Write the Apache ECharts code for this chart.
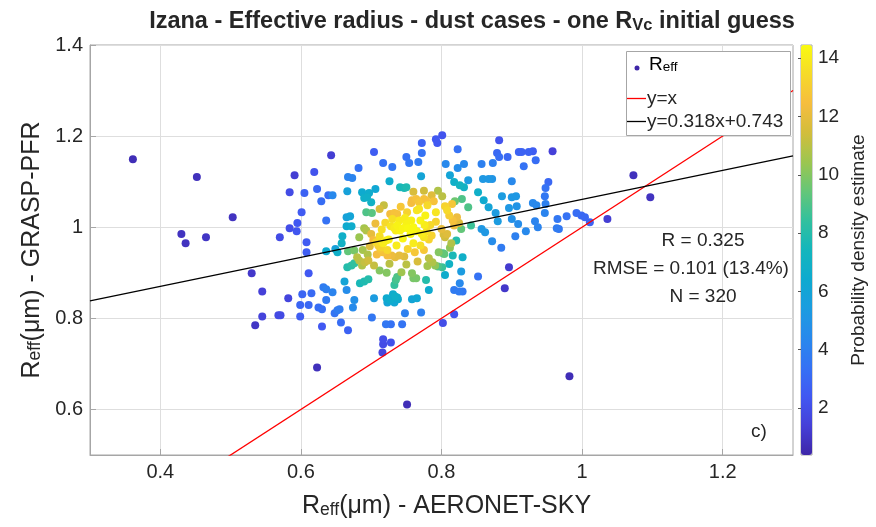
<!DOCTYPE html>
<html><head><meta charset="utf-8">
<script src="https://cdn.jsdelivr.net/npm/echarts@6/dist/echarts.min.js"></script>
<style>html,body{margin:0;padding:0;background:#fff}#c{width:876px;height:527px}</style>
</head><body><div id="c"></div>
<script>
// ---- data ----
// each sample: [AERONET-SKY Reff, GRASP-PFR Reff, probability density estimate]
const samples = [
[0.361,1.149,0.7],[0.452,1.110,0.8],[0.503,1.022,0.9],[0.430,0.985,0.9],[0.436,0.965,0.9],[0.465,0.978,1.0],[0.530,0.899,1.1],[0.535,0.785,1.0],[0.623,0.692,0.8],[0.751,0.611,0.7],[0.982,0.673,0.7],[0.890,0.866,1.1],[0.896,0.912,1.2],[1.073,1.114,0.8],[1.097,1.066,0.9],[1.036,1.018,1.3],[0.643,1.158,1.3],[0.591,1.114,1.3],[0.958,1.167,1.4],[0.802,0.790,2.0],[0.818,0.809,2.2],[0.716,0.725,1.6],
[0.582,0.844,1.6],[0.545,0.859,1.4],[0.570,0.978,1.9],[0.584,1.077,1.9],[0.584,0.998,2.0],[0.594,0.991,2.3],[0.595,1.009,2.4],[0.601,1.033,2.5],[0.608,0.967,2.5],[0.608,0.945,2.6],[0.611,0.899,2.4],[0.545,0.804,1.5],[0.568,0.807,1.8],[0.571,0.807,1.8],[0.599,0.804,2.6],[0.599,0.829,2.9],[0.611,0.829,3.0],[0.602,0.853,2.9],[0.615,0.855,3.1],[0.630,0.782,2.4],[0.625,0.824,3.2],[0.630,0.820,3.3],[0.632,0.868,3.8],[0.636,0.864,4.0],[0.645,0.857,4.2],[0.636,0.840,3.8],[0.652,0.818,3.8],[0.655,0.820,3.9],[0.648,0.811,3.5],[0.657,0.791,3.2],[0.667,0.774,2.8],[0.665,0.862,4.6],[0.676,0.840,4.8],[0.674,0.824,4.5],[0.662,0.881,6.0],[0.684,0.877,7.6],[0.690,0.881,7.8],[0.696,0.886,8.0],[0.701,0.802,3.6],[0.704,0.844,5.4],[0.717,0.754,2.0],[0.728,0.747,2.1],[0.717,0.743,1.9],[0.721,0.787,3.6],[0.722,0.844,6.4],[0.727,0.840,6.6],[0.731,0.853,6.6],[0.734,0.848,6.8],[0.737,0.846,6.6],[0.723,0.835,6.0],[0.733,0.835,6.2],[0.738,0.842,6.4],[0.733,0.873,8.5],[0.735,0.884,8.8],[0.737,0.891,9.0],[0.743,0.901,10.5],[0.744,0.787,3.5],[0.728,0.787,3.4],[0.748,0.811,4.0],[0.758,0.842,6.0],[0.765,0.844,6.2],[0.771,0.813,4.0],[0.778,0.884,8.0],[0.782,0.862,6.4],[0.760,0.888,9.8],[0.764,0.888,9.8],[0.758,0.899,10.0],[0.652,0.945,6.8],[0.636,0.947,6.4],[0.659,0.980,6.8],[0.658,0.965,7.0],[0.667,0.947,9.4],[0.676,0.949,9.8],[0.676,0.921,8.4],[0.672,0.916,8.2],[0.666,0.912,8.0],[0.691,0.923,11.2],[0.696,0.927,11.4],[0.704,0.916,11.2],
[0.801,1.202,2.2],[0.792,1.193,2.4],[0.794,1.185,2.4],[0.772,1.185,2.8],[0.772,1.163,3.4],[0.704,1.165,2.6],[0.750,1.154,3.4],[0.754,1.141,3.6],[0.767,1.143,3.8],[0.717,1.141,3.4],[0.730,1.132,3.6],[0.682,1.130,3.4],[0.619,1.121,2.2],[0.823,1.171,3.4],[0.882,1.191,2.2],[0.879,1.163,3.0],[0.882,1.154,3.2],[0.894,1.154,3.0],[0.910,1.165,2.8],[0.914,1.165,2.8],[0.924,1.165,2.8],[0.930,1.167,2.6],[0.806,1.139,4.4],[0.823,1.130,4.6],[0.832,1.139,4.4],[0.857,1.139,4.0],[0.873,1.141,4.0],[0.917,1.134,3.4],[0.934,1.147,3.2],[0.812,1.114,6.0],[0.818,1.099,6.8],[0.826,1.092,7.2],[0.838,1.103,5.4],[0.859,1.106,5.2],[0.867,1.106,5.2],[0.872,1.106,5.0],[0.900,1.101,4.4],[0.952,1.099,3.0],[0.948,1.086,3.4],[0.947,1.068,3.6],[0.852,1.077,6.8],[0.860,1.059,6.4],[0.867,1.044,6.0],[0.886,1.068,5.4],[0.900,1.066,5.2],[0.906,1.068,5.2],[0.896,1.042,5.2],[0.907,1.046,5.0],[0.930,1.053,4.4],[0.935,1.048,4.4],[0.948,1.051,4.0],[0.829,1.062,9.0],[0.819,1.057,9.6],[0.838,1.044,9.0],[0.877,1.031,5.4],[0.880,1.013,5.4],[0.900,1.018,4.8],[0.909,1.007,4.6],[0.920,0.991,4.4],[0.933,1.013,4.2],[0.937,1.000,4.2],[0.947,1.031,4.2],[0.964,0.998,3.8],[0.965,1.018,3.6],[0.978,1.024,3.4],[0.992,1.031,3.2],[0.999,1.026,3.0],[1.004,1.022,3.0],[1.011,1.011,2.8],[0.967,0.996,3.6],[0.832,1.088,7.0],
[0.872,0.969,4.6],[0.857,0.996,5.2],[0.862,0.989,5.2],[0.842,1.004,8.6],[0.828,0.996,9.4],[0.821,0.971,8.0],[0.802,0.943,8.6],[0.816,0.938,7.6],[0.811,0.919,7.0],[0.805,0.895,6.6],[0.828,0.903,5.4],[0.826,0.877,4.4],[0.818,0.862,3.8],[0.825,0.859,3.8],[0.830,0.859,3.6],[0.852,0.892,3.4],[0.905,0.980,4.0],[0.885,0.955,3.8],
[0.645,1.070,4.4],[0.666,1.079,5.8],[0.687,1.077,6.4],[0.690,1.064,6.8],[0.694,1.066,6.8],[0.697,1.075,6.6],[0.700,1.055,7.0],[0.706,1.084,6.2],[0.726,1.101,6.6],[0.741,1.088,7.6],[0.747,1.086,7.6],[0.750,1.088,7.8],[0.771,1.112,6.0],[0.667,1.110,4.2],[0.673,1.108,4.2],[0.623,1.084,3.0],[0.605,1.075,2.8],[0.639,1.070,3.2],[0.629,1.057,3.2],[0.636,1.015,3.4],[0.665,1.022,5.8],[0.670,1.024,6.0],[0.665,1.002,6.4],[0.672,1.002,6.6],[0.693,1.033,9.0],[0.701,1.031,9.2],[0.690,0.998,10.6],[0.693,0.993,10.8],[0.683,0.978,10.4],[0.649,0.952,5.8],[0.801,1.068,11.0],[0.757,1.053,12.4],[0.758,1.059,12.4],[0.764,1.062,12.6],[0.768,1.055,12.8],[0.775,1.062,12.6],[0.778,1.059,12.6],[0.789,1.057,12.6],[0.805,1.046,13.2],[0.808,1.037,13.4],[0.811,1.026,13.0],[0.815,1.051,12.8],[0.816,1.015,12.6],[0.818,1.004,12.2],[0.822,1.022,12.2],[0.825,1.009,11.8],[0.792,1.033,13.8],[0.777,1.026,14.2],[0.765,1.037,13.8],[0.768,1.040,13.8],[0.751,1.033,13.2],[0.727,1.029,12.4],[0.733,1.031,12.6],[0.737,1.029,12.6],[0.728,1.002,13.8],[0.733,0.998,14.0],[0.735,0.993,14.0],[0.737,1.004,14.2],[0.741,0.993,14.2],[0.745,0.998,14.3],[0.750,1.007,14.2],[0.752,0.998,14.4],[0.712,0.980,13.6],[0.707,0.967,13.4],[0.710,0.960,13.0],[0.714,0.956,13.2],[0.717,0.965,14.0],[0.721,0.971,14.0],[0.725,0.973,14.2],[0.765,0.991,14.2],[0.772,0.985,14.0],[0.775,0.978,13.8],[0.779,0.991,13.6],[0.782,0.973,13.2],[0.786,0.982,13.2],[0.800,0.996,12.0],[0.803,0.984,11.6],[0.805,0.978,11.4],[0.713,0.952,12.8],[0.716,0.945,12.6],[0.708,0.940,12.4],[0.723,0.938,12.4],[0.729,0.938,12.2],[0.734,0.934,12.0],[0.740,0.938,12.0],[0.747,0.936,11.8],[0.680,0.934,11.0],[0.683,0.927,11.0],[0.687,0.916,10.8],[0.782,0.932,11.0],[0.787,0.923,10.8],[0.791,0.916,10.2],[0.796,0.945,10.0],[0.804,0.941,9.4],[0.801,0.912,8.6],[0.795,0.914,9.0],[0.830,0.934,6.8],
[0.723,0.950,13.4],[0.736,0.960,14.0],[0.745,0.975,14.3],[0.756,0.985,14.4],[0.760,1.000,14.4],[0.757,1.015,14.2],[0.748,1.020,14.0],[0.740,1.015,14.0],[0.730,1.018,13.6],[0.720,1.010,13.4],[0.715,0.995,13.6],[0.760,0.965,14.0],[0.770,0.960,13.6],[0.752,0.952,13.2],[0.762,0.945,12.8],[0.775,0.950,12.8],[0.784,1.005,13.4],[0.792,1.012,13.2],[0.770,1.015,14.2],[0.776,1.005,14.0],[0.700,0.985,12.0],[0.703,0.972,12.4],[0.698,0.958,11.8],[0.706,1.008,12.2],[0.712,1.040,11.6],[0.718,1.048,11.2],[0.742,1.045,12.8],[0.780,1.048,13.4],[0.786,1.070,11.8],[0.795,1.080,10.8],[0.775,1.080,11.4],[0.760,1.078,11.6],[0.814,0.965,10.8],[0.812,0.955,10.2],[0.808,0.985,11.8],[0.688,0.950,10.6],[0.695,0.940,10.8],[0.726,0.920,11.0],[0.750,0.918,11.0],[0.766,0.925,11.6],[0.780,0.915,10.6],[0.712,0.905,10.0],[0.722,0.900,10.0]
];
const xTicks = [0.4, 0.6, 0.8, 1, 1.2];
const yTicks = [0.6, 0.8, 1, 1.2, 1.4];
const colorbarTicks = [2, 4, 6, 8, 10, 12, 14];
const xRange = [0.3, 1.3];
const yRange = [0.5, 1.4];
const densityRange = [0.39, 14.45];
const fitCoef = [0.318, 0.743];          // slope, intercept
const statsLines = ['R = 0.325', 'RMSE = 0.101 (13.4%)', 'N = 320'];
const panelLabel = 'c)';
const parula = ['#3e26a8','#4540d8','#4158f2','#3572f4','#2889ec','#1c9ce0','#0eaacf','#14b6bc','#32c09e','#64c678','#9cc650','#d2bd3c','#f6bd3e','#f6da2a','#f9fa10'];

// ---- chart ----
const FONT = '"Liberation Sans", Arial, Helvetica, sans-serif';
const TXT = '#262626';
const AX = '#a6a6a6';
const chart = echarts.init(document.getElementById('c'), null, {renderer: 'canvas'});
const sorted = samples.slice().sort((a, b) => a[2] - b[2]);
const identityLine = [[xRange[0], xRange[0]], [xRange[1], xRange[1]]];
const fitLine = [[xRange[0], fitCoef[0]*xRange[0]+fitCoef[1]], [xRange[1], fitCoef[0]*xRange[1]+fitCoef[1]]];

// rich-text styles for "main{sub}" text: drop = baseline drop of the subscript in px
function subRich(size, subSize, drop, bold) {
  const w = bold ? 'bold' : 'normal';
  const pad = Math.round(drop + 0.35*(size - subSize) + size/2 - subSize/2);
  return {
    a: {fontSize: size, fontFamily: FONT, color: TXT, fontWeight: w, lineHeight: size, verticalAlign: 'top'},
    s: {fontSize: subSize, fontFamily: FONT, color: TXT, fontWeight: w, lineHeight: subSize, verticalAlign: 'bottom', padding: [pad,0,0,0]}
  };
}

const option = {
  animation: false,
  backgroundColor: '#fff',
  title: {
    text: '{a|Izana - Effective radius - dust cases - one R}{s|Vc}{a| initial guess}',
    left: 472, textAlign: 'center', top: 10, padding: 0,
    textStyle: {rich: subRich(23.5, 16.5, 10, true)}
  },
  grid: [
    {left: 90, right: 83, top: 45, bottom: 72, show: true, borderColor: AX, borderWidth: 1, backgroundColor: '#fff'},
    {left: 801, width: 11, top: 45, height: 410, show: true, borderColor: AX, borderWidth: 1}
  ],
  xAxis: [
    {type: 'value', gridIndex: 0, min: xRange[0], max: xRange[1],
     name: '{a|R}{s|eff}{a|(μm) - AERONET-SKY}', nameLocation: 'middle', nameGap: 29,
     nameTextStyle: {rich: subRich(25, 17.5, 8, false), padding: [0,0,0,10]},
     axisLine: {show: true, lineStyle: {color: AX}},
     axisTick: {show: true, inside: true, length: 6, customValues: xTicks, lineStyle: {color: AX}},
     axisLabel: {customValues: xTicks, fontSize: 20, fontFamily: FONT, color: TXT, margin: 7},
     splitLine: {show: true, lineStyle: {color: '#dedede', width: 1}}},
    {type: 'value', gridIndex: 1, min: 0, max: 1, show: false}
  ],
  yAxis: [
    {type: 'value', gridIndex: 0, min: yRange[0], max: yRange[1],
     name: '{a|R}{s|eff}{a|(μm) - GRASP-PFR}', nameLocation: 'middle', nameGap: 37, nameRotate: 90,
     nameTextStyle: {rich: subRich(25, 17.5, 8, false)},
     axisLine: {show: true, lineStyle: {color: AX}},
     axisTick: {show: true, inside: true, length: 6, customValues: yTicks, lineStyle: {color: AX}},
     axisLabel: {customValues: yTicks, fontSize: 20, fontFamily: FONT, color: TXT, margin: 7},
     splitLine: {show: true, lineStyle: {color: '#dedede', width: 1}}},
    {type: 'value', gridIndex: 1, position: 'right', min: densityRange[0], max: densityRange[1],
     name: 'Probability density estimate', nameLocation: 'middle', nameGap: 37, nameRotate: 90,
     nameTextStyle: {fontSize: 19, fontFamily: FONT, color: TXT},
     axisLine: {show: false},
     axisTick: {show: true, inside: true, length: 3, customValues: colorbarTicks, lineStyle: {color: '#555'}},
     axisLabel: {customValues: colorbarTicks, fontSize: 19, fontFamily: FONT, color: TXT, margin: 6},
     splitLine: {show: false}}
  ],
  visualMap: {
    type: 'continuous', seriesIndex: 0, dimension: 2,
    min: densityRange[0], max: densityRange[1],
    left: 801, top: 45, itemWidth: 11, itemHeight: 410, padding: 0,
    calculable: false, realtime: false, text: null, showLabel: false,
    inRange: {color: parula}, z: 1
  },
  series: [
    {type: 'scatter', xAxisIndex: 0, yAxisIndex: 0, data: sorted, symbolSize: 8, itemStyle: {opacity: 1}, z: 2},
    {type: 'line', xAxisIndex: 0, yAxisIndex: 0, data: identityLine, symbol: 'none', clip: true,
     lineStyle: {color: '#ff0000', width: 1.3}, z: 3},
    {type: 'line', xAxisIndex: 0, yAxisIndex: 0, data: fitLine, symbol: 'none', clip: true,
     lineStyle: {color: '#000000', width: 1.3}, z: 3}
  ],
  graphic: [
    {type: 'rect', shape: {x: 626.5, y: 51.5, width: 164, height: 84}, style: {fill: '#fff', stroke: AX, lineWidth: 1}, z: 10},
    {type: 'circle', shape: {cx: 637, cy: 68, r: 2.5}, style: {fill: '#3e26a8'}, z: 11},
    {type: 'text', x: 649, y: 55.5, z: 11, style: {text: '{a|R}{s|eff}', rich: subRich(19, 13.5, 7, false)}},
    {type: 'line', shape: {x1: 627, y1: 98.5, x2: 646, y2: 98.5}, style: {stroke: '#ff0000', lineWidth: 1.3}, z: 11},
    {type: 'text', x: 647, y: 98.5, z: 11, style: {text: 'y=x', font: '19px ' + FONT, fill: TXT, verticalAlign: 'middle'}},
    {type: 'line', shape: {x1: 627, y1: 121.5, x2: 646, y2: 121.5}, style: {stroke: '#000', lineWidth: 1.3}, z: 11},
    {type: 'text', x: 647, y: 121.5, z: 11, style: {text: 'y=0.318x+0.743', font: '19px ' + FONT, fill: TXT, verticalAlign: 'middle'}},
    {type: 'text', x: 703, y: 241, z: 11, style: {text: statsLines[0], font: '19px ' + FONT, fill: TXT, align: 'center', verticalAlign: 'middle'}},
    {type: 'text', x: 691, y: 269, z: 11, style: {text: statsLines[1], font: '19px ' + FONT, fill: TXT, align: 'center', verticalAlign: 'middle'}},
    {type: 'text', x: 703, y: 297, z: 11, style: {text: statsLines[2], font: '19px ' + FONT, fill: TXT, align: 'center', verticalAlign: 'middle'}},
    {type: 'text', x: 751, y: 432, z: 11, style: {text: panelLabel, font: '19px ' + FONT, fill: TXT, verticalAlign: 'middle'}}
  ]
};
chart.setOption(option);
</script></body></html>
